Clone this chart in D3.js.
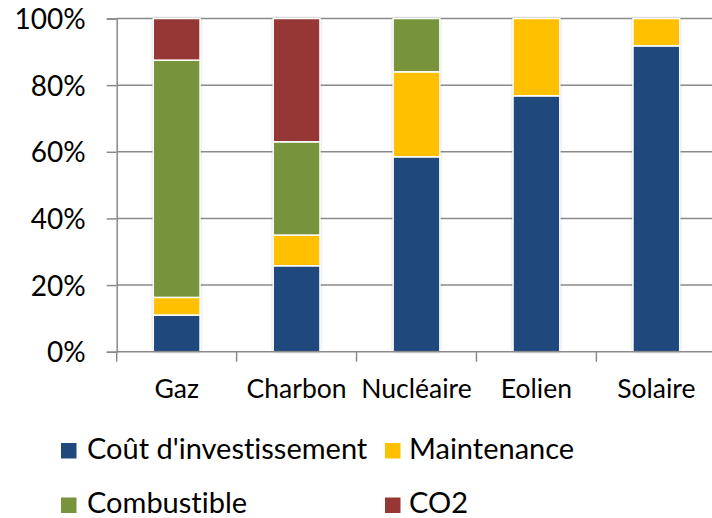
<!DOCTYPE html>
<html>
<head>
<meta charset="utf-8">
<script src="https://cdn.jsdelivr.net/npm/d3@7"></script>
<style>
  html, body { margin: 0; padding: 0; background: #fff; }
  svg { display: block; font-family: Lato, "Open Sans", sans-serif; }
  svg text { font-variant-ligatures: none; font-feature-settings: "liga" 0, "dlig" 0; }
</style>
</head>
<body>
<svg id="chart" width="712" height="518"></svg>
<script>
// Energy sources on the x axis
const categories = ["Gaz", "Charbon", "Nucléaire", "Eolien", "Solaire"];
// Cost components (stack order, bottom to top)
const seriesNames = ["Coût d'investissement", "Maintenance", "Combustible", "CO2"];
const seriesColors = ["#1F497D", "#FFC000", "#77933C", "#953735"];
// Share of each component, in %, per category
const invest      = [11.0, 25.8, 58.5, 76.8, 91.8];
const maintenance = [5.3, 9.2, 25.5, 23.2, 8.2];
const combustible = [71.2, 28.0, 16.0, 0, 0];
const co2         = [12.5, 37.0, 0, 0, 0];
const yTicks = [0, 20, 40, 60, 80, 100];

const svg = d3.select("#chart");
const margin = { left: 116.7, right: -4.3, top: 18.5, bottom: 166.3 };
const W = 712, H = 518;
const x0 = margin.left, x1 = W - margin.right;
const y0 = H - margin.bottom, y1 = margin.top;

const x = d3.scaleBand().domain(categories).range([x0, x1]).paddingInner(0.61).paddingOuter(0.305);
const xTick = d3.scaleBand().domain(categories).range([x0, x1]);
const y = d3.scaleLinear().domain([0, 100]).range([y0, y1]);

// soft halo around the bars
const defs = svg.append("defs");
const f = defs.append("filter").attr("id", "halo").attr("x", "-30%").attr("y", "-10%").attr("width", "160%").attr("height", "120%");
f.append("feDropShadow").attr("dx", 0).attr("dy", 0).attr("stdDeviation", 1.8)
  .attr("flood-color", "#000").attr("flood-opacity", 0.35);

// horizontal gridlines
svg.append("g").selectAll("line").data(yTicks.filter(d => d > 0)).join("line")
  .attr("x1", x0).attr("x2", x1)
  .attr("y1", d => y(d)).attr("y2", d => y(d))
  .attr("stroke", "#8a8a8a").attr("stroke-width", 1.5);

// y axis
const yAxis = svg.append("g").attr("transform", `translate(${x0},0)`)
  .call(d3.axisLeft(y).tickValues(yTicks).tickFormat(d => d + "%").tickSize(10).tickPadding(21));
yAxis.select(".domain").attr("stroke", "#8a8a8a").attr("stroke-width", 1.5);
yAxis.selectAll(".tick line").attr("stroke", "#8a8a8a").attr("stroke-width", 1.5);
yAxis.selectAll(".tick text").attr("font-size", 28).attr("fill", "#000")
  .attr("font-family", "Lato, sans-serif").attr("dy", "0.36em");

// stacked bars
const rows = categories.map((c, i) => ({
  cat: c,
  [seriesNames[0]]: invest[i],
  [seriesNames[1]]: maintenance[i],
  [seriesNames[2]]: combustible[i],
  [seriesNames[3]]: co2[i]
}));
const stacked = d3.stack().keys(seriesNames)(rows);

const barG = svg.append("g");
barG.selectAll("g.bar").data(categories).join("g").attr("class", "bar")
  .each(function (cat, i) {
    const g = d3.select(this);
    const segs = stacked.map((s, k) => ({ k, lo: s[i][0], hi: s[i][1] })).filter(d => d.hi - d.lo > 0);
    // shadow underlay
    g.append("rect")
      .attr("x", x(cat)).attr("width", x.bandwidth())
      .attr("y", y(100)).attr("height", y(0) - y(100))
      .attr("fill", "#fff").attr("filter", "url(#halo)");
    g.selectAll("rect.seg").data(segs).join("rect").attr("class", "seg")
      .attr("x", x(cat)).attr("width", x.bandwidth())
      .attr("y", d => y(d.hi)).attr("height", d => y(d.lo) - y(d.hi))
      .attr("fill", d => seriesColors[d.k])
      .attr("stroke", "#fff").attr("stroke-width", 1.5);
  });

// x axis
const xg = svg.append("g");
xg.append("line").attr("x1", x0).attr("x2", x1).attr("y1", y0).attr("y2", y0)
  .attr("stroke", "#8a8a8a").attr("stroke-width", 1.5);
const bounds = categories.map(c => xTick(c)).concat([x1]);
xg.selectAll("line.tk").data(bounds).join("line").attr("class", "tk")
  .attr("x1", d => d).attr("x2", d => d).attr("y1", y0).attr("y2", y0 + 10)
  .attr("stroke", "#8a8a8a").attr("stroke-width", 1.5);
xg.selectAll("text").data(categories).join("text")
  .attr("x", d => xTick(d) + xTick.bandwidth() / 2).attr("y", 398)
  .attr("text-anchor", "middle").attr("font-size", 26.5).attr("fill", "#000")
  .text(d => d);

// legend
const legendPos = [
  { sx: 61, tx: 87, sy: 443, ty: 459 },
  { sx: 385, tx: 409, sy: 443, ty: 459 },
  { sx: 61, tx: 87, sy: 497.5, ty: 513 },
  { sx: 385, tx: 409, sy: 497.5, ty: 513 }
];
const lg = svg.append("g");
seriesNames.forEach((name, k) => {
  const p = legendPos[k];
  lg.append("rect").attr("x", p.sx).attr("y", p.sy).attr("width", 15.5).attr("height", 15.5)
    .attr("fill", seriesColors[k]);
  lg.append("text").attr("x", p.tx).attr("y", p.ty).attr("font-size", 29).attr("fill", "#000").text(name);
});
</script>
</body>
</html>
